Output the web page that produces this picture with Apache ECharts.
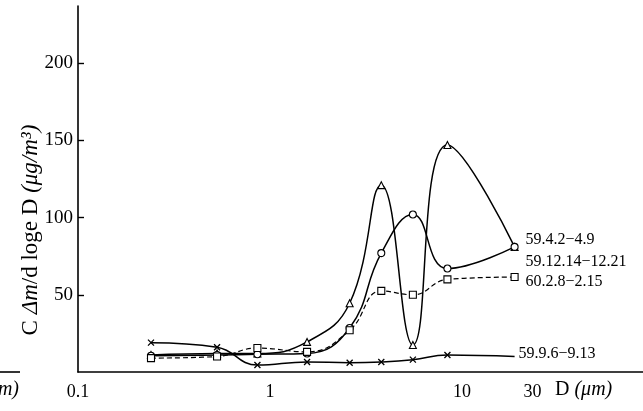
<!DOCTYPE html>
<html>
<head>
<meta charset="utf-8">
<script src="https://cdn.jsdelivr.net/npm/echarts@6/dist/echarts.min.js"></script>
<style>
  html, body { margin: 0; padding: 0; background: #fff; }
  #chart { width: 643px; height: 411px; }
</style>
</head>
<body>
<div id="chart"></div>
<script>
// Particle diameter of each impactor stage (μm)
const diameters = [0.24, 0.53, 0.86, 1.56, 2.6, 3.8, 5.55, 8.4, 18.8];

// C·Δm / d loge D (μg/m³) for each sampling period
const seriesNames = ['59.4.2−4.9', '59.12.14−12.21', '60.2.8−2.15', '59.9.6−9.13'];
const aprValues = [11, 12, 12, 19.5, 44.5, 121, 17.5, 147, 81];
const decValues = [10.5, 11, 11.5, 12, 28.5, 77, 102, 67, 81];
const febValues = [9, 10, 15.5, 13, 27, 52.5, 50, 60, 61.5];
const sepValues = [19, 16, 4.5, 6.5, 6, 6.5, 8, 11, 10];

// Axis ticks
const xTickValues = [0.1, 1, 10, 30];
const yTickValues = [50, 100, 150, 200];

const SERIF = "'Liberation Serif', 'DejaVu Serif', serif";
const crossPath = 'path://M0,0L10,10M10,0L0,10';

function pairs(values) {
  return values.map((v, i) => [diameters[i], v]);
}

function endLabel(name, distance, offset) {
  return {
    show: true,
    formatter: name,
    color: '#000',
    fontFamily: SERIF,
    fontSize: 16,
    distance: distance,
    offset: offset
  };
}

function lineSeries(name, values, symbol, opts) {
  return Object.assign({
    name: name,
    type: 'line',
    data: pairs(values),
    smooth: 0.45,
    symbol: symbol,
    symbolSize: 7,
    showAllSymbol: true,
    lineStyle: { color: '#000', width: 1.5 },
    itemStyle: { color: '#fff', borderColor: '#000', borderWidth: 1.1 },
    emphasis: { disabled: true }
  }, opts || {});
}

const sepData = pairs(sepValues);
sepData[sepData.length - 1] = { value: sepData[sepData.length - 1], symbol: 'none' };

const option = {
  animation: false,
  backgroundColor: '#fff',
  grid: { left: 78, right: 0, top: 6, bottom: 39 },
  xAxis: {
    type: 'log',
    logBase: 10,
    min: 0.1,
    max: 87.7,
    axisLine: { lineStyle: { color: '#000', width: 1.6 } },
    axisTick: { show: false },
    minorTick: { show: false },
    splitLine: { show: false },
    axisLabel: {
      customValues: xTickValues,
      color: '#000',
      fontFamily: SERIF,
      fontSize: 18,
      margin: 11,
      formatter: function (v) {
        const r = Math.round(v * 10) / 10;
        return r === 30 ? '{s|30}' : String(r);
      },
      rich: {
        s: { fontFamily: SERIF, fontSize: 18, color: '#000', padding: [0, 42, 0, 0] }
      }
    }
  },
  yAxis: {
    type: 'value',
    min: 0,
    max: 237,
    axisLine: { show: true, lineStyle: { color: '#000', width: 1.6 } },
    axisTick: { show: true, inside: true, length: 6, customValues: yTickValues, lineStyle: { color: '#000', width: 1.4 } },
    splitLine: { show: false },
    axisLabel: {
      customValues: yTickValues,
      color: '#000',
      fontFamily: SERIF,
      fontSize: 19,
      margin: 5
    }
  },
  graphic: [
    {
      type: 'text',
      x: 31,
      y: 230,
      rotation: Math.PI / 2,
      style: {
        text: '{r|C }{i|Δm}{r|/d loge D }{i|(μg/m³)}',
        align: 'center',
        verticalAlign: 'middle',
        rich: {
          r: { fontFamily: SERIF, fontSize: 23, fill: '#000' },
          i: { fontFamily: SERIF, fontSize: 23, fontStyle: 'italic', fill: '#000' }
        }
      }
    },
    {
      type: 'text',
      x: 555,
      y: 390,
      style: {
        text: '{r|D }{i|(μm)}',
        align: 'left',
        verticalAlign: 'middle',
        rich: {
          r: { fontFamily: SERIF, fontSize: 20, fill: '#000' },
          i: { fontFamily: SERIF, fontSize: 20, fontStyle: 'italic', fill: '#000' }
        }
      }
    },
    {
      type: 'text',
      x: 19,
      y: 390,
      style: {
        text: '{i|(μm)}',
        align: 'right',
        verticalAlign: 'middle',
        rich: {
          i: { fontFamily: SERIF, fontSize: 20, fontStyle: 'italic', fill: '#000' }
        }
      }
    },
    {
      type: 'line',
      shape: { x1: 0, y1: 372, x2: 20, y2: 372 },
      style: { stroke: '#000', lineWidth: 1.6 }
    }
  ],
  series: [
    lineSeries(seriesNames[0], aprValues, 'triangle', {
      endLabel: endLabel(seriesNames[0], 11, [0, -7])
    }),
    lineSeries(seriesNames[1], decValues, 'circle', {
      endLabel: endLabel(seriesNames[1], 11, [0, 15])
    }),
    lineSeries(seriesNames[2], febValues, 'rect', {
      lineStyle: { color: '#000', width: 1.2, type: [5, 3] },
      endLabel: endLabel(seriesNames[2], 11, [0, 5])
    }),
    lineSeries(seriesNames[3], sepValues, crossPath, {
      data: sepData,
      symbolSize: 6,
      itemStyle: { color: '#fff', borderColor: '#000', borderWidth: 1.3 },
      endLabel: endLabel(seriesNames[3], 4, [0, -3])
    })
  ]
};

const chart = echarts.init(document.getElementById('chart'), null, { renderer: 'canvas' });
chart.setOption(option);
</script>
</body>
</html>
